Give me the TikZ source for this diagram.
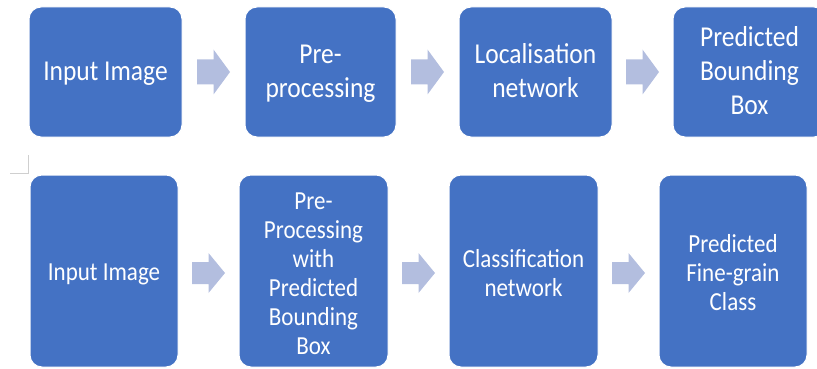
\documentclass[tikz,border=0pt]{standalone}
\usepackage{fontspec}
\usepackage{graphicx}
\setmainfont{Carlito}
\usetikzlibrary{calc}
\definecolor{boxblue}{HTML}{4472C4}
\definecolor{arrowc}{HTML}{B3BEDF}
\definecolor{markgray}{HTML}{CFCFCF}
\newcommand\tallstack[1]{\scalebox{1}[1.13]{\begin{tabular}{@{}c@{}}#1\end{tabular}}}
\tikzset{
  box/.style={rectangle, rounded corners=12pt, fill=boxblue, draw=white, line width=1pt, inner sep=0pt},
  toprow/.style={box, minimum width=153pt, minimum height=130pt},
  botrow/.style={box, minimum width=149pt, minimum height=192pt},
  lbl/.style={text=white, align=center, inner sep=0pt},
  toplbl/.style={lbl, font=\fontsize{25.5pt}{30pt}\selectfont},
  botlbl/.style={lbl, font=\fontsize{23pt}{25.7pt}\selectfont},
  flowarrow/.style={fill=arrowc, draw=none},
}
% arrow between two nodes: #1 left node, #2 right node, #3 shaft half-height, #4 head half-height, #5 y offset
\newcommand\flowarr[5]{%
  \coordinate (m) at ($(#1.east)!0.5!(#2.west)+(0,#5)$);
  \fill[flowarrow] ($(m)+(-16.5,-#3)$) -- ($(m)+(0,-#3)$) -- ($(m)+(0,-#4)$) -- ($(m)+(16.5,0)$)
     -- ($(m)+(0,#4)$) -- ($(m)+(0,#3)$) -- ($(m)+(-16.5,#3)$) -- cycle;}
\begin{document}
\begin{tikzpicture}[x=1pt,y=-1pt]
\useasboundingbox (0,0) rectangle (817,369);
% top row
\node[toprow] (t1) at (105.5,72) {};
\node[toprow, minimum width=151pt] (t2) at (320.5,72) {};
\node[toprow] (t3) at (535.5,72) {};
\node[toprow] (t4) at (749.5,72) {};
\node[toplbl] (l1) at ($(t1.center)+(0,2)$) {\tallstack{Input Image}};
\node[toplbl] (l2) at ($(t2.center)+(0,2)$) {\tallstack{Pre-\\processing}};
\node[toplbl] (l3) at ($(t3.center)+(0,2)$) {\tallstack{Localisation\\network}};
\node[toplbl] (l4) at ($(t4.center)+(0,2)$) {\tallstack{Predicted\\Bounding\\Box}};
% bottom row
\node[botrow, minimum width=148pt] (b1) at (104,271) {};
\node[botrow] (b2) at (313.5,271) {};
\node[botrow] (b3) at (523.5,271) {};
\node[botrow, minimum width=148pt] (b4) at (733,271) {};
\node[botlbl] (k1) at ($(b1.center)+(0,4)$) {\tallstack{Input Image}};
\node[botlbl] (k2) at ($(b2.center)+(0,5)$) {\tallstack{Pre-\\Processing\\with\\Predicted\\Bounding\\Box}};
\node[botlbl] (k3) at ($(b3.center)+(0,5)$) {\tallstack{Classification\\network}};
\node[botlbl] (k4) at ($(b4.center)+(0,5)$) {\tallstack{Predicted\\Fine-grain\\Class}};
% arrows
\flowarr{t1}{t2}{12.5}{22.5}{0}
\flowarr{t2}{t3}{12.5}{22.5}{0}
\flowarr{t3}{t4}{12.5}{22.5}{0}
\flowarr{b1}{b2}{11}{20}{2}
\flowarr{b2}{b3}{11}{20}{2}
\flowarr{b3}{b4}{11}{20}{2}
% corner mark
\draw[markgray, line width=1pt] (10,173) -- (28,173) -- (28,155);
\end{tikzpicture}
\end{document}
